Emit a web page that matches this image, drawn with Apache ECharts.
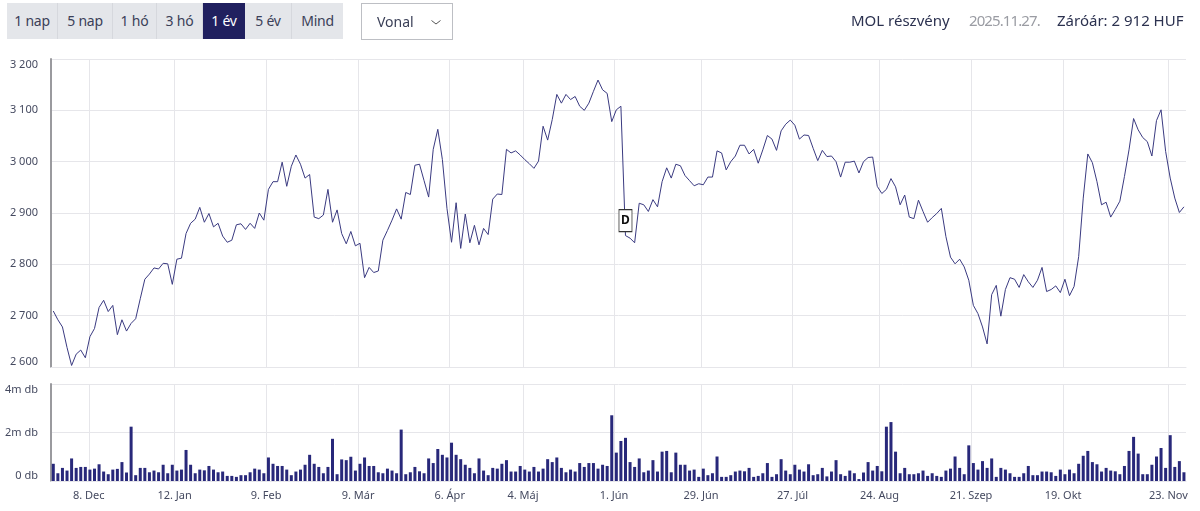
<!DOCTYPE html>
<html lang="hu">
<head>
<meta charset="utf-8">
<title>MOL részvény</title>
<script src="https://cdn.jsdelivr.net/npm/echarts@6/dist/echarts.min.js"></script>
<style>
  html, body { margin: 0; padding: 0; background: #fff; }
  body { position: relative; width: 1200px; height: 511px; overflow: hidden; font-family: "Noto Sans", sans-serif; color: #2c3250; }
  #chart { position: absolute; left: 0; top: 0; width: 1200px; height: 511px; }
  .ranges { position: absolute; left: 7px; top: 3px; height: 36px; display: flex; background: #e4e6ea; z-index: 2; }
  .ranges span { display: block; height: 36px; line-height: 35px; text-align: center; font-size: 14px; letter-spacing: -0.25px; color: #3b4058; border-right: 1px solid #d6d8dd; box-sizing: border-box; }
  .ranges span.active { background: #20205f; color: #fff; border-right: 0; }
  .select { position: absolute; left: 361px; top: 3px; width: 92px; height: 37px; box-sizing: border-box; border: 1px solid #bdbfc4; z-index: 2; font-size: 14px; line-height: 35px; padding-left: 15px; color: #3b4058; }
  .select svg { position: absolute; left: 69px; top: 16px; }
  .info { position: absolute; top: 9px; font-size: 15px; line-height: 22px; white-space: nowrap; z-index: 2; }
</style>
</head>
<body>
<div class="ranges">
  <span style="width:51px">1 nap</span><span style="width:55px">5 nap</span><span style="width:44px">1 hó</span><span style="width:46px">3 hó</span><span class="active" style="width:42px">1 év</span><span style="width:47px">5 év</span><span style="width:51px;border-right:0">Mind</span>
</div>
<div class="select">Vonal<svg width="10" height="5" viewBox="0 0 10 5"><path d="M0.5 0.5 L5 4 L9.5 0.5" fill="none" stroke="#555" stroke-width="1"/></svg></div>
<div class="info" style="left:851px">MOL részvény</div>
<div class="info" style="left:969px;color:#9a9ca3;letter-spacing:-0.9px">2025.11.27.</div>
<div class="info" style="left:1057px">Záróár: 2 912 HUF</div>
<div id="chart"></div>
<script>
// záróárak (HUF), naponta
const prices = [
  2709, 2692, 2678, 2638, 2603, 2625, 2633, 2618, 2659, 2675, 2716, 2730, 2708, 2720, 2663, 2692,
  2670, 2685, 2694, 2733, 2771, 2781, 2793, 2791, 2802, 2801, 2761, 2810, 2812, 2860, 2880, 2888,
  2911, 2882, 2899, 2873, 2880, 2855, 2843, 2847, 2877, 2879, 2868, 2880, 2870, 2900, 2886, 2946,
  2961, 2961, 2999, 2952, 2991, 3013, 2995, 2968, 2975, 2892, 2889, 2896, 2946, 2882, 2906, 2860,
  2840, 2864, 2836, 2841, 2774, 2794, 2784, 2787, 2847, 2866, 2886, 2908,
  2888, 2940, 2936, 2993, 2995, 2963, 2931, 3024, 3063, 3004, 2909, 2843, 2920, 2831, 2898, 2842,
  2876, 2838, 2870, 2858, 2927, 2937, 2936, 3024, 3017, 3021, 3013, 3004, 2996, 2987, 3001, 3069,
  3042, 3082, 3131, 3114, 3131, 3121, 3127, 3108, 3100, 3114, 3137, 3159, 3140, 3133, 3078, 3101,
  3108, 2856, 2851, 2842, 2919, 2916, 2903, 2926, 2912, 2961, 2988, 2968, 2995, 2992, 2973, 2963,
  2953, 2957, 2955, 2970, 2970, 3021, 3017, 2984, 3000, 3011, 3032, 3032, 3015, 3024, 2997, 3023,
  3051, 3044, 3022, 3060, 3073, 3081, 3071, 3044,
  3052, 3051, 3026, 3002, 3022, 3010, 3011, 3000, 2970, 2999, 2999, 3001, 2978, 3000, 3008, 3009,
  2952, 2938, 2946, 2967, 2951, 2916, 2935, 2892, 2889, 2925, 2903, 2882, 2891, 2899, 2909, 2854,
  2814, 2801, 2810, 2795, 2769, 2720, 2704, 2678, 2645, 2741, 2759, 2699, 2751, 2774, 2771, 2755,
  2780, 2766, 2755, 2769, 2794, 2747, 2751, 2758, 2745, 2771, 2739, 2757, 2815, 2929, 3015, 2998,
  2961, 2916, 2921, 2892, 2907, 2923, 2971, 3023, 3084, 3062, 3047, 3039, 3011, 3080, 3101, 3020,
  2968, 2929, 2901, 2912
];

// forgalom (millió db), naponta
const volumes = [
  .71, .32, .54, .43, .93, .54, .58, .58, .47, .51, .69, .39, .28, .47, .50, .78,
  .35, 2.24, .24, .54, .54, .36, .43, .36, .67, .32, .67, .43, .47, 1.28, .67, .32,
  .47, .44, .62, .47, .36, .39, .21, .21, .17, .24, .24, .36, .51, .47, .32, .97,
  .71, .62, .62, .47, .24, .39, .47, .67, 1.08, .71, .58, .32, .58, 1.74, .28, .89,
  .86, 1.0, .43, .71, .97, .62, .62, .36, .32, .51, .43, .32,
  2.12, .28, .36, .58, .40, .32, .93, .74, 1.32, 1.08, .97, 1.58, 1.08, .90, .67, .54,
  .32, .93, .43, .24, .54, .51, .71, .86, .39, .39, .62, .47, .39, .58, .39, .51,
  .90, .78, .97, .54, .36, .47, .39, .74, .58, .74, .74, .51, .67, .62, 2.71, 1.17,
  1.65, 1.78, .78, .58, .93, .36, .43, .86, .39, 1.21, 1.24, .36, 1.17, .67, .67, .43,
  .47, .17, .51, .24, .32, 1.01, .17, .17, .24, .39, .43, .40, .54, .17, .21, .32,
  .74, .17, .28, .90, .43, .28, .67, .47,
  .39, .69, .24, .28, .54, .19, .39, .86, .28, .21, .43, .32, .08, .35, .78, .43,
  .62, .40, 2.24, 2.43, 1.21, .32, .54, .28, .28, .32, .43, .21, .32, .21, .17, .43,
  .51, 1.01, .54, .28, 1.47, .74, .47, .82, .54, .93, .17, .54, .47, .32, .17, .17,
  .32, .62, .24, .24, .39, .39, .36, .21, .47, .28, .47, .32, .71, 1.04, 1.24, .78,
  .69, .39, .54, .43, .40, .28, .62, 1.24, 1.82, 1.13, .28, .28, .67, 1.01, 1.36, .54,
  1.89, .58, .82, .36
];

// idősáv feliratai: a hétvégék a kereskedési napok közé esnek
const tickIndex = [7.75, 26.5, 46.5, 66.6, 86.6, 102.6, 122.5, 141.5, 161.5, 180.5, 200.5, 220.6, 243.6];
const tickLabels = ['8. Dec', '12. Jan', '9. Feb', '9. Már', '6. Ápr', '4. Máj', '1. Jún', '29. Jún', '27. Júl', '24. Aug', '21. Szep', '19. Okt', '23. Nov'];

// osztalék jelölő (D) napja
const dividendIndex = 125;

const gridColor = '#e6e6ea';
const axisFont = { fontFamily: '"Noto Sans", sans-serif', fontSize: 11, color: '#454a60' };

const xAxisBase = {
  type: 'value',
  min: -0.5,
  max: 247.45,
  axisLine: { show: true, onZero: false, lineStyle: { color: gridColor } },
  axisTick: { show: false, customValues: tickIndex },
  splitLine: { show: true, lineStyle: { color: gridColor } }
};

const yAxisBase = {
  type: 'value',
  position: 'left',
  axisLine: { show: true, onZero: false, lineStyle: { color: '#9a9a9e', width: 2 } },
  axisTick: { show: false },
  splitLine: { show: true, lineStyle: { color: gridColor } }
};

const chart = echarts.init(document.getElementById('chart'));

chart.setOption({
  animation: false,
  grid: [
    { left: 51, right: 14, top: 59, height: 308 },
    { left: 51, right: 14, top: 384, height: 97 }
  ],
  xAxis: [
    Object.assign({}, xAxisBase, {
      gridIndex: 0,
      axisLabel: { show: false, customValues: tickIndex }
    }),
    Object.assign({}, xAxisBase, {
      gridIndex: 1,
      axisLabel: Object.assign({}, axisFont, {
        show: true,
        margin: 9,
        customValues: tickIndex,
        formatter: (v) => tickLabels[tickIndex.indexOf(v)]
      })
    })
  ],
  yAxis: [
    Object.assign({}, yAxisBase, {
      gridIndex: 0,
      min: 2600,
      max: 3200,
      interval: 100,
      axisLabel: Object.assign({}, axisFont, {
        margin: 13,
        verticalAlignMinLabel: 'bottom',
        verticalAlignMaxLabel: 'top',
        formatter: (v) => String(v).replace(/\B(?=(\d{3})+$)/g, ' ')
      })
    }),
    Object.assign({}, yAxisBase, {
      gridIndex: 1,
      min: 0,
      max: 4,
      interval: 2,
      axisLabel: Object.assign({}, axisFont, {
        margin: 13,
        verticalAlignMinLabel: 'bottom',
        verticalAlignMaxLabel: 'top',
        formatter: (v) => (v === 0 ? '0 db' : v + 'm db')
      })
    })
  ],
  series: [
    {
      name: 'Vonal',
      type: 'line',
      xAxisIndex: 0,
      yAxisIndex: 0,
      data: prices.map((v, i) => [i, v]),
      showSymbol: false,
      lineStyle: { color: '#3a3a80', width: 1 },
      markPoint: {
        symbol: 'rect',
        symbolSize: [13, 22],
        symbolOffset: [0, -15],
        itemStyle: { color: '#fff', borderColor: '#333', borderWidth: 1 },
        label: { show: true, position: 'inside', formatter: 'D', fontFamily: '"Noto Sans", sans-serif', fontSize: 12, fontWeight: 'bold', color: '#111' },
        data: [{ coord: [dividendIndex, prices[dividendIndex]] }]
      }
    },
    {
      name: 'Forgalom',
      type: 'bar',
      xAxisIndex: 1,
      yAxisIndex: 1,
      data: volumes.map((v, i) => [i, v]),
      barWidth: 3,
      itemStyle: { color: '#28287a' }
    }
  ]
});
</script>
</body>
</html>
